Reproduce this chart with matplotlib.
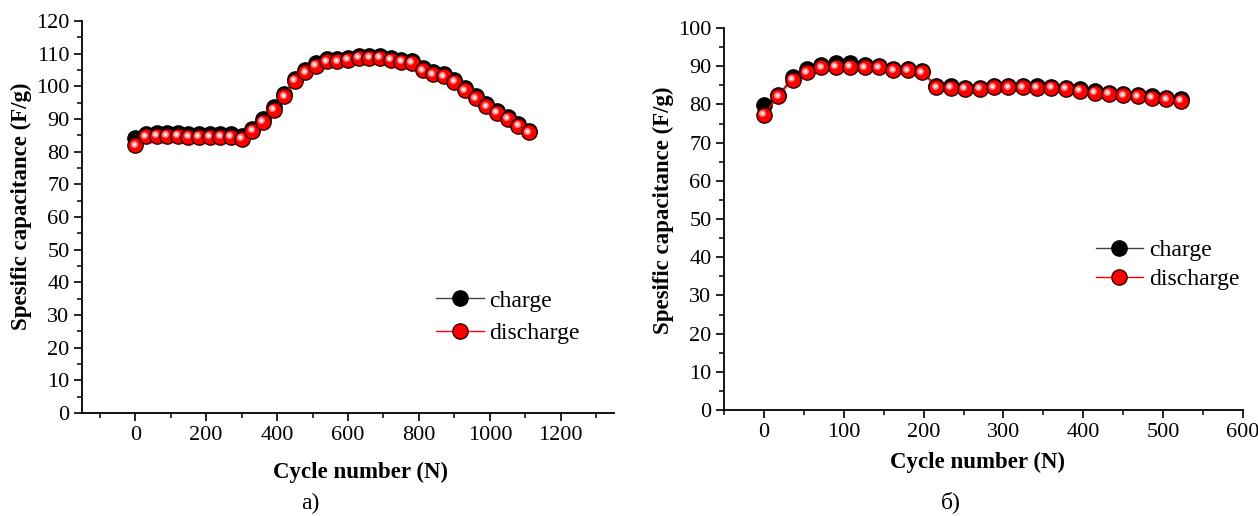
import matplotlib.pyplot as plt
from matplotlib.ticker import MultipleLocator
from matplotlib import transforms

# cycling data, panel a)
cycles_a = [0, 30, 60, 90, 120, 150, 180, 210, 240, 270, 300, 330, 360, 390,
            420, 450, 480, 510, 540, 570, 600, 630, 660, 690, 720, 750, 780,
            810, 840, 870, 900, 930, 960, 990, 1020, 1050, 1080, 1110]
charge_a = [84.2, 85.4, 85.6, 85.6, 85.6, 85.3, 85.3, 85.3, 85.3, 85.3, 84.8,
            87.0, 90.0, 93.8, 97.6, 102.2, 105.0, 107.0, 108.3, 108.3, 108.6,
            109.3, 109.4, 109.3, 108.8, 108.2, 107.8, 105.6, 104.4, 103.8,
            102.0, 99.5, 97.0, 94.5, 92.4, 90.6, 88.5, 86.4]
discharge_a = [81.9, 84.7, 84.9, 84.9, 84.9, 84.6, 84.6, 84.6, 84.6, 84.6, 84.0,
               86.4, 89.2, 92.9, 96.9, 101.6, 104.3, 106.3, 107.7, 107.7, 108.1,
               108.8, 108.8, 108.8, 108.2, 107.6, 107.1, 104.9, 103.7, 103.1,
               101.3, 98.8, 96.3, 93.9, 91.8, 90.0, 87.9, 85.9]

# cycling data, panel б)
cycles_b = [0, 18, 36, 54, 72, 90, 108, 126, 144, 162, 180, 198, 216, 234, 252,
            270, 288, 306, 324, 342, 360, 378, 396, 414, 432, 450, 468, 486,
            504, 522]
charge_b = [79.8, 82.4, 87.2, 89.3, 90.3, 90.8, 90.8, 90.2, 90.0, 89.3, 89.2,
            88.7, 84.9, 84.7, 84.4, 84.4, 84.9, 84.9, 84.9, 84.7, 84.6, 84.3,
            84.0, 83.5, 83.1, 82.8, 82.5, 82.1, 81.7, 81.3]
discharge_b = [77.3, 82.1, 86.5, 88.4, 89.7, 89.9, 89.9, 89.7, 89.7, 88.9, 88.9,
               88.4, 84.5, 84.3, 84.0, 84.0, 84.5, 84.5, 84.5, 84.3, 84.3, 84.0,
               83.6, 83.1, 82.7, 82.4, 82.1, 81.7, 81.3, 81.0]

plt.rcParams['font.family'] = ['Liberation Serif', 'DejaVu Serif']
plt.rcParams['font.size'] = 16

fig = plt.figure(figsize=(12.58, 5.16), dpi=100)
ax1 = fig.add_axes([0.0652, 0.1996, 0.4229, 0.7597])
ax2 = fig.add_axes([0.5755, 0.2054, 0.4126, 0.7403])


def draw_panel(ax, x, ch, dis, ms):
    ax.plot(x, ch, '-', color='#444444', lw=1, marker='o', ms=ms,
            mfc='black', mec='black', label='charge', zorder=2)
    ax.plot(x, dis, '-', color='red', lw=1, marker='o', ms=ms,
            mfc='red', mec='#300000', mew=1.0, label='discharge', zorder=3)
    # shiny highlight on the red balls
    hl = transforms.offset_copy(ax.transData, fig=fig, x=-1.2, y=1.2, units='points')
    ax.plot(x, dis, 'o', ms=ms * 0.45, mfc='#ff9c9c', mec='none',
            alpha=0.9, transform=hl, zorder=4)
    ax.plot(x, dis, 'o', ms=ms * 0.22, mfc='#ffe8e8', mec='none',
            transform=hl, zorder=5)


def style_axes(ax, xlab_pos, ylab_pos):
    ax.spines['top'].set_visible(False)
    ax.spines['right'].set_visible(False)
    ax.spines['left'].set_linewidth(1.3)
    ax.spines['bottom'].set_linewidth(1.3)
    ax.tick_params(which='major', direction='out', length=6, width=1.2,
                   labelsize=16, pad=3)
    ax.tick_params(which='minor', direction='out', length=3.5, width=1.1)
    ax.set_xlabel('Cycle number (N)', fontsize=16.5, fontweight='bold',
                  va='center', ha='center')
    ax.set_ylabel('Spesific capacitance (F/g)', fontsize=16.5, fontweight='bold',
                  va='center', ha='center')
    ax.xaxis.set_label_coords(*xlab_pos)
    ax.yaxis.set_label_coords(*ylab_pos)


draw_panel(ax1, cycles_a, charge_a, discharge_a, 11)
ax1.set_xlim(-150, 1350)
ax1.set_ylim(0, 120)
ax1.xaxis.set_major_locator(MultipleLocator(200))
ax1.xaxis.set_minor_locator(MultipleLocator(100))
ax1.yaxis.set_major_locator(MultipleLocator(10))
ax1.yaxis.set_minor_locator(MultipleLocator(5))
style_axes(ax1, (0.524, -0.1505), (-0.1147, 0.528))
ax1.legend(loc='center left', bbox_to_anchor=(0.666, 0.245), frameon=False,
           fontsize=17, handlelength=2.0, handletextpad=0.25, borderpad=0,
           borderaxespad=0, labelspacing=0.45)

draw_panel(ax2, cycles_b, charge_b, discharge_b, 11)
ax2.set_xlim(-50, 600)
ax2.set_ylim(0, 100)
ax2.xaxis.set_major_locator(MultipleLocator(100))
ax2.xaxis.set_minor_locator(MultipleLocator(50))
ax2.yaxis.set_major_locator(MultipleLocator(10))
ax2.yaxis.set_minor_locator(MultipleLocator(5))
style_axes(ax2, (0.4875, -0.136), (-0.1175, 0.5236))
ax2.legend(loc='center left', bbox_to_anchor=(0.716, 0.38), frameon=False,
           fontsize=17, handlelength=2.0, handletextpad=0.25, borderpad=0,
           borderaxespad=0, labelspacing=0.3)

fig.text(310 / 1258, 1 - 503 / 516, 'а)', ha='center', va='center', fontsize=17)
fig.text(951 / 1258, 1 - 502 / 516, 'б)', ha='center', va='center', fontsize=17)

fig.savefig('out.png', dpi=100)
